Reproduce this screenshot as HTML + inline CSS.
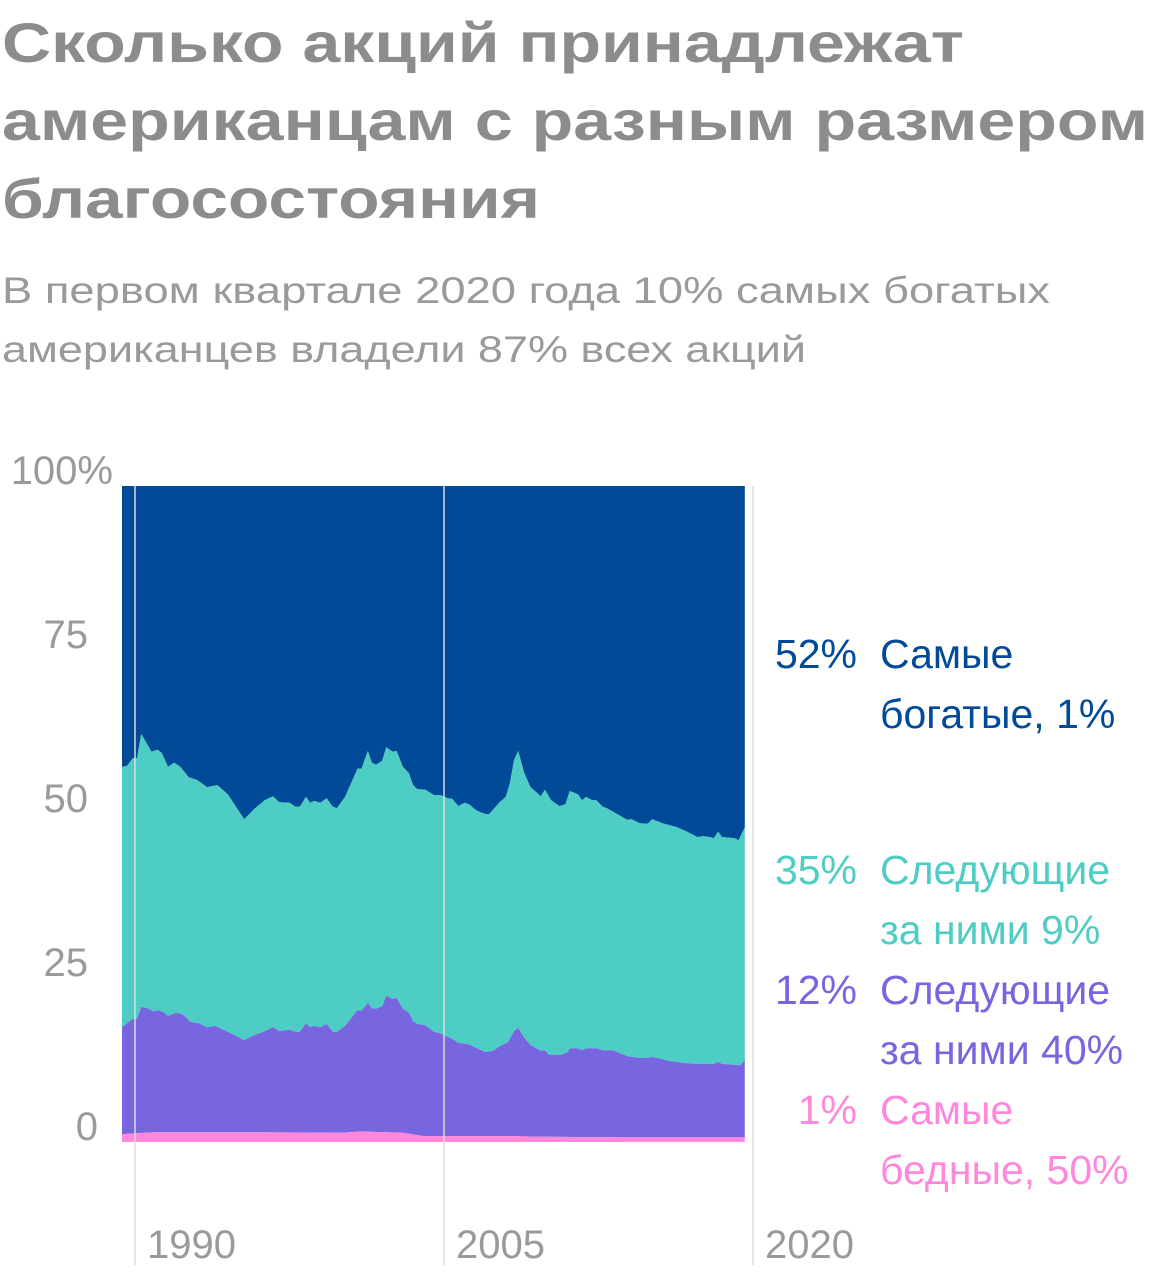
<!DOCTYPE html>
<html><head><meta charset="utf-8"><style>
html,body{margin:0;padding:0;background:#fff;}
svg{display:block;font-family:"Liberation Sans","Noto Sans CJK SC",sans-serif;}
</style></head><body>
<svg id="chart" width="1160" height="1280" viewBox="0 0 1160 1280" xmlns="http://www.w3.org/2000/svg">
<g fill="#8c8c8c" font-weight="bold" font-size="56">
<text x="2" y="62" textLength="962" lengthAdjust="spacingAndGlyphs">Сколько акций принадлежат</text>
<text x="2" y="140" textLength="1146" lengthAdjust="spacingAndGlyphs">американцам с разным размером</text>
<text x="2" y="218" textLength="538" lengthAdjust="spacingAndGlyphs">благосостояния</text>
</g>
<g fill="#9a9a9a" font-size="37">
<text x="2" y="303" textLength="1048" lengthAdjust="spacingAndGlyphs">В первом квартале 2020 года 10% самых богатых</text>
<text x="2" y="362" textLength="804" lengthAdjust="spacingAndGlyphs">американцев владели 87% всех акций</text>
</g>
<g id="plot"></g>
</svg>
<script>
const yTicks = [100, 75, 50, 25, 0];
const yTickLabels = ["100%", "75", "50", "25", "0"];
const xTicks = [1990, 2005, 2020];
const top1Years = [1989.37,1989.6,1989.9,1990.1,1990.3,1990.8,1991.1,1991.3,1991.6,1991.9,1992.2,1992.6,1993.0,1993.5,1994.0,1994.5,1995.3,1995.8,1996.3,1996.7,1997.0,1997.5,1997.8,1998.0,1998.3,1998.5,1998.7,1999.0,1999.3,1999.6,1999.8,2000.2,2000.8,2001.0,2001.3,2001.5,2001.7,2002.0,2002.2,2002.5,2002.7,2003.0,2003.3,2003.5,2003.7,2004.1,2004.5,2004.8,2005.2,2005.4,2005.7,2006.0,2006.2,2006.6,2007.0,2007.2,2007.7,2008.0,2008.2,2008.4,2008.6,2008.9,2009.2,2009.7,2009.9,2010.2,2010.6,2010.9,2011.1,2011.5,2011.7,2011.9,2012.2,2012.4,2012.7,2012.9,2013.4,2013.9,2014.1,2014.5,2014.9,2015.1,2015.6,2016.3,2016.8,2017.3,2017.6,2017.9,2018.1,2018.3,2018.5,2019.1,2019.3,2019.6];
const top1Share = [42.8,42.7,41.5,41.5,37.8,40.5,40.2,40.7,42.8,42.2,42.8,44.4,44.8,45.9,45.6,47.0,50.8,49.2,47.9,47.3,48.2,48.3,48.9,48.9,47.4,48.3,48.0,48.3,47.6,48.9,49.1,47.4,43.1,43.1,40.4,42.2,42.5,41.9,39.8,40.5,40.4,42.8,43.8,45.6,46.2,46.3,47.1,47.1,47.6,47.7,48.8,48.3,48.5,49.5,50.0,50.0,48.2,47.4,45.3,41.8,40.4,43.8,45.9,47.3,46.3,47.9,48.8,48.5,46.5,47.0,47.9,47.4,47.9,47.9,48.9,49.1,50.0,50.9,50.8,51.4,51.5,50.8,51.4,52.0,52.7,53.5,53.4,53.5,53.7,52.7,53.5,53.7,54.0,52.0];
const bottom90Years = [1989.37,1989.9,1990.1,1990.3,1990.6,1990.9,1991.1,1991.4,1991.6,1992.0,1992.3,1992.7,1993.1,1993.5,1993.9,1994.5,1995.0,1995.3,1995.8,1996.3,1996.7,1997.0,1997.5,1997.8,1998.0,1998.3,1998.5,1998.7,1999.0,1999.3,1999.6,1999.8,2000.2,2000.8,2001.0,2001.3,2001.5,2001.7,2002.0,2002.2,2002.5,2002.7,2003.0,2003.3,2003.5,2003.7,2004.1,2004.5,2004.8,2005.2,2005.4,2005.7,2006.2,2006.6,2007.0,2007.4,2007.7,2008.1,2008.4,2008.6,2008.9,2009.2,2009.7,2009.9,2010.1,2010.7,2011.0,2011.1,2011.5,2011.7,2011.9,2012.4,2012.7,2013.2,2013.9,2014.5,2014.9,2015.1,2016.0,2016.8,2017.3,2018.1,2018.3,2018.5,2019.4,2019.6];
const bottom90Share = [17.5,18.8,18.8,20.6,20.4,19.9,20.1,19.8,19.2,19.7,19.5,18.3,18.1,17.5,17.7,16.8,16.0,15.5,16.3,16.9,17.5,16.9,17.1,16.8,16.8,18.1,17.5,17.7,17.5,18.0,16.8,16.8,17.7,20.1,20.0,21.2,20.4,20.3,20.7,22.3,21.8,22.0,20.3,19.7,18.4,18.0,17.8,16.8,16.6,16.0,15.7,15.1,14.9,14.3,13.7,13.9,14.6,15.2,16.9,17.4,15.9,14.8,13.9,14.0,13.3,13.3,13.7,14.3,14.3,14.0,14.3,14.3,14.0,14.0,13.1,12.8,12.8,13.0,12.3,12.0,11.9,11.9,12.2,11.9,11.7,12.5];
const bottom50Years = [1989.37,1990.5,1991.0,1995.0,2000.0,2001.0,2003.0,2004.0,2008.0,2010.0,2014.0,2019.6];
const bottom50Share = [1.2,1.4,1.5,1.5,1.4,1.6,1.4,0.9,0.9,0.8,0.7,0.7];
const legendPct = ["52%","35%","12%","1%"];
const legendLine1 = ["Самые","Следующие","Следующие","Самые"];
const legendLine2 = ["богатые, 1%","за ними 9%","за ними 40%","бедные, 50%"];
const colors = ["#004a97","#4ecdc4","#7866e0","#ff88dd"];

const NS = "http://www.w3.org/2000/svg";
const plot = document.getElementById("plot");
const X0 = 135, PXY = 20.6, Y0 = 1142, Y100 = 486;
function xs(yr){ return X0 + (yr - 1990) * PXY; }
function ys(v){ return Y0 - (Y0 - Y100) * v / 100; }
function el(tag, attrs){ const e = document.createElementNS(NS, tag); for (const k in attrs) e.setAttribute(k, attrs[k]); plot.appendChild(e); return e; }

const xStart = xs(top1Years[0]), xEnd = xs(top1Years[top1Years.length-1]);
const topLine = top1Years.map((t,i)=>[xs(t), ys(100 - top1Share[i])]);
const b90Line = bottom90Years.map((t,i)=>[xs(t), ys(bottom90Share[i])]);
const b50Line = bottom50Years.map((t,i)=>[xs(t), ys(bottom50Share[i])]);
function pts(a){ return a.map(p=>p[0].toFixed(1)+","+p[1].toFixed(1)).join(" "); }
function rev(a){ return a.slice().reverse(); }

let p = el("polygon", {points: pts([[xStart, ys(100)], [xEnd, ys(100)]].concat(rev(topLine))), fill: colors[0]});


p = el("polygon", {points: pts(topLine.concat(rev(b90Line))), fill: colors[1]});


p = el("polygon", {points: pts(b90Line.concat(rev(b50Line))), fill: colors[2]});


p = el("polygon", {points: pts(b50Line.concat([[xEnd, ys(0)], [xStart, ys(0)]])), fill: colors[3]});



xTicks.forEach(t=>{
  const g = el("line", {x1: xs(t), x2: xs(t), y1: Y100, y2: 1265, stroke: "#dcdcdc", "stroke-opacity": 0.75, "stroke-width": 2});
  
  
  const tx = el("text", {x: xs(t) + 12, y: 1258, fill: "#9a9a9a", "font-size": 40});
  tx.textContent = t;
  
  
});
yTicks.forEach((v,i)=>{
  const tx = el("text", {x: v === 0 ? 98 : (v === 100 ? 113 : 88), y: ys(v) - 2, fill: "#9a9a9a", "font-size": 40, "text-anchor": "end"});
  tx.textContent = yTickLabels[i];
  
  
});
const legY = [668, 884, 1004, 1124];
legendPct.forEach((s,i)=>{
  const a = el("text", {x: 857, y: legY[i], fill: colors[i], "font-size": 41, "text-anchor": "end"});
  a.textContent = s;
  
  
  const b = el("text", {x: 880, y: legY[i], fill: colors[i], "font-size": 41});
  b.textContent = legendLine1[i];
  
  
  const c = el("text", {x: 880, y: legY[i] + 60, fill: colors[i], "font-size": 41});
  c.textContent = legendLine2[i];
  
  
});
</script>
</body></html>
